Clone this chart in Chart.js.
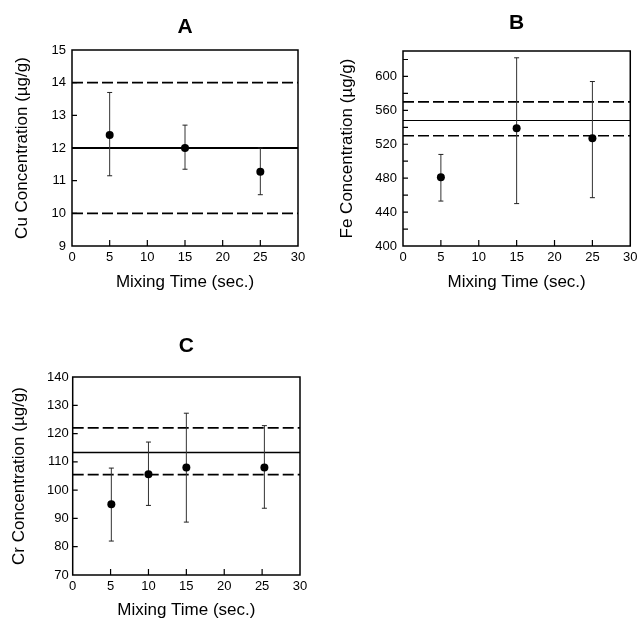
<!DOCTYPE html>
<html><head><meta charset="utf-8">
<script src="https://cdn.jsdelivr.net/npm/chart.js@4.4.1/dist/chart.umd.min.js"></script>
<style>
body{margin:0;background:#fff;width:641px;height:625px;position:relative;overflow:hidden}
canvas{position:absolute}
</style></head><body>
<canvas id="cA" width="320" height="300" style="left:0;top:0"></canvas>
<canvas id="cB" width="321" height="300" style="left:320px;top:0"></canvas>
<canvas id="cC" width="320" height="325" style="left:0;top:300px"></canvas>
<script>
// ---- data ----
const xTicks = [0, 5, 10, 15, 20, 25, 30];
const xMinor = [5, 10, 15, 20, 25];

const cuTime = [5, 15, 25];
const cuMean = [12.4, 12.0, 11.27];
const cuLow = [11.15, 11.35, 10.57];
const cuHigh = [13.7, 12.7, 12.0];
const cuMeanLine = 12;
const cuLimitLines = [10, 14];
const cuTicks = [9, 10, 11, 12, 13, 14, 15];
const cuMinor = [10, 11, 12, 13, 14];

const feTime = [5, 15, 25];
const feMean = [481, 539, 527];
const feLow = [453, 450, 457];
const feHigh = [508, 622, 594];
const feMeanLine = 548;
const feLimitLines = [530, 570];
const feTicks = [400, 440, 480, 520, 560, 600];
const feMinor = [420, 440, 460, 480, 500, 520, 540, 560, 580, 600, 620];

const crTime = [5.1, 10, 15, 25.3];
const crMean = [95, 105.6, 108, 108];
const crLow = [82, 94.6, 88.7, 93.6];
const crHigh = [107.8, 117, 127.2, 122.8];
const crMeanLine = 113.3;
const crLimitLines = [105.5, 122];
const crTicks = [70, 80, 90, 100, 110, 120, 130, 140];
const crMinor = [80, 90, 100, 110, 120, 130];

// ---- chart builder ----
const FONT = '"Liberation Sans", Arial, Helvetica, sans-serif';
Chart.defaults.font.family = FONT;
Chart.defaults.color = '#000';

const framePlugin = {
  id: 'frame',
  afterDraw(chart, args, opts) {
    const {ctx, chartArea: a, scales} = chart;
    ctx.save();
    ctx.strokeStyle = '#000';
    ctx.lineWidth = 1.5;
    ctx.strokeRect(a.left, a.top, a.right - a.left, a.bottom - a.top);
    ctx.lineWidth = 1.2;
    ctx.beginPath();
    opts.yMinor.forEach(v => {
      const y = scales.y.getPixelForValue(v);
      ctx.moveTo(a.left, y); ctx.lineTo(a.left + 5, y);
    });
    opts.xMinor.forEach(v => {
      const x = scales.x.getPixelForValue(v);
      ctx.moveTo(x, a.bottom); ctx.lineTo(x, a.bottom - 6);
    });
    ctx.stroke();
    ctx.restore();
  }
};

function makePanel(p) {
  const datasets = [];
  datasets.push({
    type: 'scatter',
    data: p.time.map((t, i) => ({x: t, y: p.mean[i]})),
    pointRadius: 4, pointHoverRadius: 4,
    backgroundColor: '#000', borderColor: '#000', borderWidth: 0
  });
  p.time.forEach((t, i) => {
    datasets.push({
      type: 'line',
      data: [{x: t, y: p.low[i]}, {x: t, y: p.high[i]}],
      borderColor: '#333', borderWidth: 1,
      pointStyle: 'line', pointRadius: 2.5, pointBorderWidth: 1,
      pointBorderColor: '#222'
    });
  });
  datasets.push({
    type: 'line',
    data: [{x: 0, y: p.meanLine}, {x: 30, y: p.meanLine}],
    borderColor: '#000', borderWidth: p.meanWidth, pointRadius: 0
  });
  p.limits.forEach(v => {
    datasets.push({
      type: 'line',
      data: [{x: 0, y: v}, {x: 30, y: v}],
      borderColor: '#000', borderWidth: 1.6, borderDash: [11, 4], pointRadius: 0
    });
  });

  new Chart(document.getElementById(p.id), {
    type: 'scatter',
    data: {datasets},
    options: {
      responsive: false, animation: false, devicePixelRatio: 1,
      layout: {padding: {left: 0, right: p.padRight, top: 0, bottom: 0}},
      plugins: {
        legend: {display: false}, tooltip: {enabled: false},
        title: {display: true, fullSize: false, text: p.title,
                font: {size: 21, weight: 'bold', family: FONT},
                color: '#000', padding: {top: p.titleTop, bottom: p.titleBottom}},
        frame: {yMinor: p.yMinor, xMinor: xMinor}
      },
      scales: {
        x: {
          type: 'linear', min: 0, max: 30,
          grid: {display: false, drawTicks: false},
          border: {display: false},
          afterBuildTicks: s => { s.ticks = xTicks.map(v => ({value: v})); },
          afterFit: s => { s.height = p.xHeight; },
          ticks: {font: {size: 13}, padding: p.xTickPad, maxRotation: 0, autoSkip: false},
          title: {display: true, text: 'Mixing Time (sec.)', font: {size: 17},
                  padding: {top: 0, bottom: p.xTitleBottom}}
        },
        y: {
          type: 'linear', min: p.yMin, max: p.yMax,
          grid: {display: false, drawTicks: false},
          border: {display: false},
          afterBuildTicks: s => { s.ticks = p.yTicks.map(v => ({value: v})); },
          afterFit: s => { s.width = p.yWidth; },
          ticks: {font: {size: 13}, padding: p.yTickPad, autoSkip: false},
          title: {display: true, text: p.yTitle, font: {size: 17},
                  padding: {top: p.yTitlePad, bottom: 0}}
        }
      }
    },
    plugins: [framePlugin]
  });
}

makePanel({
  id: 'cA', title: 'A', yTitle: 'Cu Concentration (µg/g)',
  time: cuTime, mean: cuMean, low: cuLow, high: cuHigh,
  meanLine: cuMeanLine, meanWidth: 1.8, limits: cuLimitLines,
  yMin: 9, yMax: 15, yTicks: cuTicks, yMinor: cuMinor,
  padRight: 22, yWidth: 72, xHeight: 54,
  titleTop: 14.4, titleBottom: 10.4,
  xTickPad: 3.5, xTitleBottom: 7.5, yTickPad: 6, yTitlePad: 11.8
});
makePanel({
  id: 'cB', title: 'B', yTitle: 'Fe Concentration (µg/g)',
  time: feTime, mean: feMean, low: feLow, high: feHigh,
  meanLine: feMeanLine, meanWidth: 1.2, limits: feLimitLines,
  yMin: 400, yMax: 630, yTicks: feTicks, yMinor: feMinor,
  padRight: 8.7, yWidth: 83, xHeight: 54,
  titleTop: 10.4, titleBottom: 15.4,
  xTickPad: 3.5, xTitleBottom: 7.5, yTickPad: 6, yTitlePad: 17.3
});
makePanel({
  id: 'cC', title: 'C', yTitle: 'Cr Concentration (µg/g)',
  time: crTime, mean: crMean, low: crLow, high: crHigh,
  meanLine: crMeanLine, meanWidth: 1.6, limits: crLimitLines,
  yMin: 70, yMax: 140, yTicks: crTicks, yMinor: crMinor,
  padRight: 20, yWidth: 72.7, xHeight: 50,
  titleTop: 33.4, titleBottom: 18.4,
  xTickPad: 3.5, xTitleBottom: 4.5, yTickPad: 4, yTitlePad: 8.8
});
</script>
</body></html>
